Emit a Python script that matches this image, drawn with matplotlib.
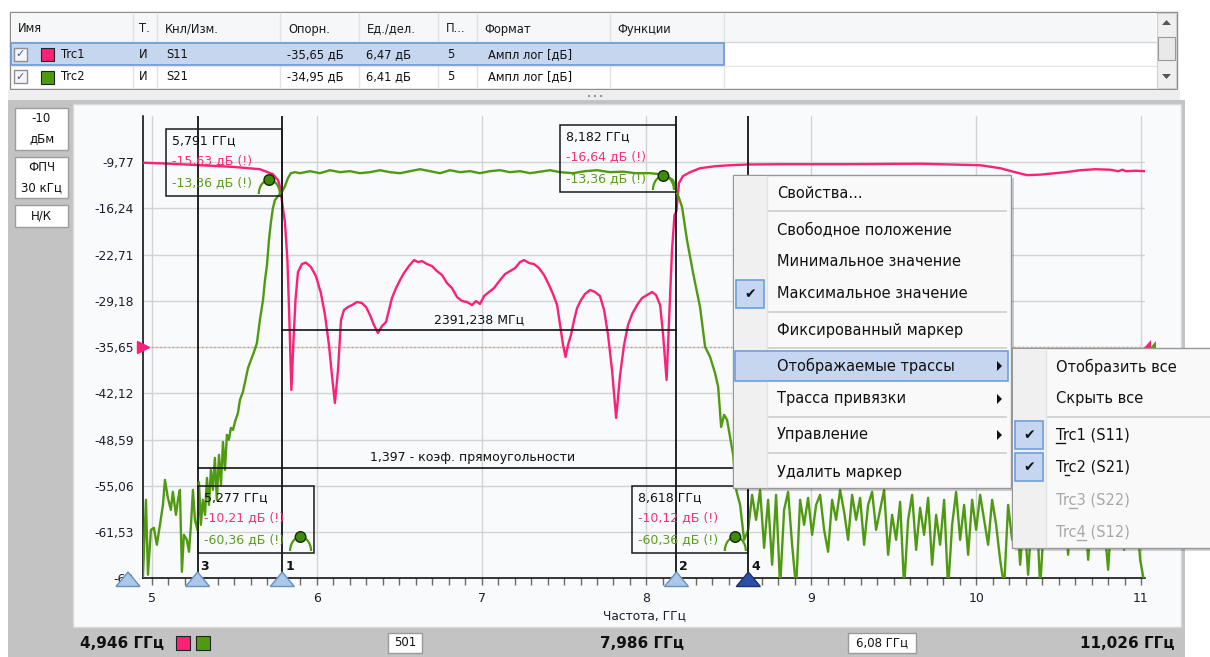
import numpy as np
import matplotlib
matplotlib.use('Agg')
import matplotlib.pyplot as plt
from matplotlib.patches import Rectangle, Polygon, Circle, Arc
from matplotlib.ticker import FixedLocator, MultipleLocator, FuncFormatter
from matplotlib.font_manager import FontProperties

plt.rcParams['font.family'] = ['DejaVu Sans']

# ------------------------------------------------------------------ data
TABLE_COLS = ['Имя', 'Т.', 'Кнл/Изм.', 'Опорн.', 'Ед./дел.', 'П...', 'Формат', 'Функции']
TRACE_NAMES = ['Trc1', 'Trc2']
TRACE_TYPE = ['И', 'И']
TRACE_MEAS = ['S11', 'S21']
TRACE_REF = [-35.65, -34.95]
TRACE_SCALE = [6.47, 6.41]
TRACE_REFPOS = [5, 5]
TRACE_FORMAT = ['Ампл лог [дБ]', 'Ампл лог [дБ]']
TRACE_COLORS = ['#fa2176', '#4f9a10']
N_DIV = 10

F_START, F_CENTER, F_STOP = 4.946, 7.986, 11.026
N_POINTS = 501
F_SPAN = 6.08
X_TICKS = [5, 6, 7, 8, 9, 10, 11]

LEFT_INFO = [['-10', 'дБм'], ['ФПЧ', '30 кГц'], ['Н/К']]

S11_F = [4.945, 5.109, 5.291, 5.491, 5.655, 5.734, 5.765, 5.780, 5.791, 5.807,
         5.822, 5.834, 5.846, 5.859, 5.871, 5.886, 5.910, 5.934, 5.965, 5.995,
         6.025, 6.050, 6.074, 6.092, 6.110, 6.129, 6.147, 6.165, 6.189, 6.214,
         6.244, 6.274, 6.299, 6.323, 6.347, 6.371, 6.396, 6.420, 6.438, 6.456,
         6.481, 6.505, 6.529, 6.559, 6.590, 6.614, 6.638, 6.669, 6.699, 6.729,
         6.760, 6.790, 6.820, 6.851, 6.881, 6.911, 6.942, 6.966, 6.990, 7.015,
         7.045, 7.075, 7.112, 7.142, 7.172, 7.203, 7.233, 7.257, 7.288, 7.318,
         7.348, 7.379, 7.409, 7.433, 7.458, 7.476, 7.494, 7.509, 7.524, 7.542,
         7.561, 7.579, 7.603, 7.627, 7.658, 7.688, 7.718, 7.743, 7.767, 7.791,
         7.816, 7.840, 7.864, 7.888, 7.913, 7.943, 7.973, 8.004, 8.034, 8.058,
         8.083, 8.101, 8.122, 8.137, 8.155, 8.170, 8.182, 8.197, 8.221, 8.264,
         8.325, 8.416, 8.507, 8.618, 8.811, 9.235, 9.660, 10.024, 10.146, 10.237,
         10.309, 10.388, 10.479, 10.540, 10.631, 10.722, 10.813, 10.862, 10.886, 10.910,
         10.965, 11.026]
S11_DB = [-9.87, -10.01, -10.22, -10.45, -10.78, -11.48, -12.31, -13.43, -15.63, -18.18,
          -23.49, -31.88, -41.66, -34.67, -29.08, -25.17, -24.05, -23.84, -24.47, -25.73,
          -28.10, -31.18, -35.37, -39.56, -43.48, -38.86, -31.88, -30.48, -30.06, -29.78,
          -29.36, -29.50, -30.06, -31.18, -32.58, -33.69, -32.72, -32.16, -30.48, -28.80,
          -27.41, -26.29, -25.31, -24.33, -23.49, -23.77, -23.63, -24.05, -24.33, -25.03,
          -25.59, -26.71, -27.41, -28.66, -29.22, -29.36, -29.78, -29.22, -29.64, -28.52,
          -27.96, -27.41, -26.29, -25.45, -25.03, -24.61, -23.77, -23.49, -23.91, -24.05,
          -24.61, -25.59, -26.99, -28.24, -29.78, -32.58, -35.37, -37.05, -35.37, -33.97,
          -31.88, -30.20, -29.08, -28.24, -27.68, -27.96, -28.52, -30.48, -33.97, -38.86,
          -45.57, -39.56, -35.37, -32.58, -31.04, -29.78, -28.80, -28.38, -27.96, -28.38,
          -29.78, -33.97, -40.26, -31.88, -22.10, -17.20, -16.64, -12.73, -11.75, -11.20,
          -10.64, -10.36, -10.22, -10.12, -10.08, -10.08, -10.01, -10.22, -10.64, -11.20,
          -11.61, -11.54, -11.33, -11.20, -10.92, -10.78, -10.85, -11.06, -10.85, -11.06,
          -10.99, -11.06]

S21_F_LOW = [4.945, 4.964, 4.976, 4.994, 5.012, 5.030, 5.049, 5.067, 5.079, 5.097,
             5.115, 5.127, 5.146, 5.158, 5.170, 5.182, 5.194, 5.212, 5.225, 5.237,
             5.249, 5.261, 5.277, 5.285, 5.297, 5.309, 5.322, 5.334, 5.346, 5.358,
             5.370, 5.382, 5.394, 5.407, 5.419, 5.431, 5.443, 5.455, 5.467, 5.479,
             5.492, 5.504, 5.522, 5.534, 5.552, 5.564, 5.583, 5.601, 5.619, 5.637,
             5.655, 5.674, 5.686, 5.698, 5.710, 5.722, 5.734, 5.746, 5.765, 5.777,
             5.791, 5.807, 5.825, 5.843, 5.868, 5.898]
S21_DB_LOW = [-67.21, -56.13, -66.51, -60.29, -60.01, -62.36, -59.59, -56.82, -53.36, -55.86,
              -57.52, -55.02, -58.21, -56.13, -54.75, -66.10, -60.98, -61.67, -63.33, -59.59,
              -54.75, -58.90, -60.36, -53.64, -59.59, -56.13, -58.21, -53.09, -56.82, -51.98,
              -54.75, -50.32, -56.13, -49.90, -54.06, -48.10, -51.98, -47.13, -47.82, -46.16,
              -46.44, -45.33, -44.09, -42.29, -41.18, -39.93, -37.86, -36.75, -35.64, -34.40,
              -31.21, -28.44, -25.67, -23.60, -20.14, -17.64, -15.71, -14.60, -14.04, -13.77,
              -13.36, -12.66, -11.55, -10.86, -10.72, -10.86]
S21_F_PASS = [5.959, 6.019, 6.080, 6.141, 6.201, 6.262, 6.323, 6.383, 6.444, 6.505,
              6.566, 6.626, 6.687, 6.748, 6.808, 6.869, 6.930, 6.990, 7.051, 7.112,
              7.172, 7.233, 7.294, 7.354, 7.415, 7.476, 7.555, 7.627, 7.700, 7.779,
              7.858, 7.931, 8.022, 8.083, 8.125, 8.161, 8.182, 8.198, 8.216, 8.246,
              8.283, 8.325, 8.356, 8.386, 8.416, 8.435, 8.453, 8.471, 8.489, 8.507,
              8.526, 8.544]
S21_DB_PASS = [-10.58, -10.86, -10.45, -10.72, -10.58, -10.86, -10.72, -10.45, -10.72, -10.86,
               -10.58, -10.31, -10.58, -10.86, -10.45, -10.72, -10.58, -10.86, -10.58, -10.45,
               -10.72, -10.58, -10.86, -10.65, -10.45, -10.72, -10.86, -10.58, -10.45, -10.72,
               -10.65, -10.86, -10.86, -11.00, -11.28, -11.83, -13.36, -14.32, -15.57, -20.14,
               -24.71, -29.41, -34.95, -36.33, -38.55, -40.49, -46.03, -44.36, -45.06, -47.41,
               -49.90, -54.75]
S21_HIGH_START, S21_HIGH_STOP = 8.568, 11.019
S21_DB_HIGH = [-56.83, -61.67, -60.36, -55.44, -58.90, -54.75, -62.78, -56.13, -65.13, -55.44,
               -68.20, -57.52, -55.03, -62.36, -68.40, -56.13, -59.59, -55.86, -60.98, -56.83,
               -55.44, -60.29, -63.33, -56.13, -58.90, -54.75, -57.79, -61.67, -55.44, -58.90,
               -55.86, -62.36, -56.83, -55.03, -60.29, -57.52, -54.75, -63.75, -58.21, -61.67,
               -56.41, -68.30, -58.90, -55.44, -63.05, -57.24, -60.98, -55.86, -65.13, -58.21,
               -62.36, -56.13, -68.50, -59.59, -55.03, -61.67, -56.83, -63.75, -56.13, -60.29,
               -55.44, -58.90, -62.36, -56.13, -59.59, -64.44, -68.20, -56.83, -61.67, -56.13,
               -65.13, -58.21, -66.51, -57.52, -55.44, -68.40, -58.90, -56.13, -62.36, -57.52,
               -60.29, -56.83, -63.75, -56.13, -60.98, -58.21, -55.86, -64.44, -57.52, -61.67,
               -56.13, -59.59, -65.82, -56.83, -60.98, -55.86, -63.05, -58.21, -61.67, -56.83,
               -64.44, -67.50]

MARKER_NUM = [1, 2, 3, 4]
MARKER_F = [5.791, 8.182, 5.277, 8.618]
MARKER_TRC1 = [-15.63, -16.64, -10.21, -10.12]
MARKER_TRC2 = [-13.36, -13.36, -60.36, -60.36]
MARKER_ACTIVE = 4
BANDWIDTH_MHZ = 2391.238
SHAPE_FACTOR = 1.397

MENU_ITEMS = ['Свойства...', None, 'Свободное положение', 'Минимальное значение',
              'Максимальное значение', None, 'Фиксированный маркер', None,
              'Отображаемые трассы', 'Трасса привязки', None, 'Управление', None,
              'Удалить маркер']
MENU_CHECKED = ['Максимальное значение']
MENU_SUB = ['Отображаемые трассы', 'Трасса привязки', 'Управление']
SUBMENU_ITEMS = ['Отобразить все', 'Скрыть все', None, 'Trc1 (S11)', 'Trc2 (S21)',
                 'Trc3 (S22)', 'Trc4 (S12)']
SUBMENU_CHECKED = ['Trc1 (S11)', 'Trc2 (S21)']
SUBMENU_DISABLED = ['Trc3 (S22)', 'Trc4 (S12)']
SUBMENU_ACCEL = {'Trc1 (S11)': 0, 'Trc2 (S21)': 1, 'Trc3 (S22)': 2, 'Trc4 (S12)': 3}


def cnum(v, nd=2):
    return f"{v:.{nd}f}".replace('.', ',')


# ------------------------------------------------------------------ figure
W, H = 1210, 657
fig = plt.figure(figsize=(W / 100, H / 100), dpi=100)
fig.patch.set_facecolor('white')
renderer = fig.canvas.get_renderer()


def text_w(s, size, weight='normal'):
    fp = FontProperties(family='DejaVu Sans', size=size, weight=weight)
    w, h, d = renderer.get_text_width_height_descent(s, fp, ismath=False)
    return w


bg = fig.add_axes([0, 0, 1, 1], zorder=0)
bg.set_xlim(0, W); bg.set_ylim(H, 0); bg.axis('off')
fg = fig.add_axes([0, 0, 1, 1], zorder=10)
fg.set_xlim(0, W); fg.set_ylim(H, 0); fg.axis('off')

# ---------------- top table
bg.add_patch(Rectangle((10, 12), 1167, 77, fc='white', ec='#8c8c8c', lw=1))
bg.add_patch(Rectangle((11, 13), 1145, 29, fc='#f6f7f8', ec='none'))
bg.plot([11, 1156], [42, 42], color='#d6d6d6', lw=1)
col_x = [18, 139, 165, 288, 367, 446, 484, 617]
sep_x = [133, 157, 280, 359, 438, 477, 610, 724]
for x in sep_x:
    bg.plot([x, x], [13, 88], color='#e2e2e2', lw=1)
for x, s in zip(col_x, TABLE_COLS):
    bg.text(x, 29, s, fontsize=8.3, va='center', ha='left', color='#1a1a1a')
row_y = [54.5, 77]
bg.add_patch(Rectangle((11, 43), 713, 22, fc='#c7d6ef', ec='#6a98d8', lw=1.2, zorder=2))
bg.plot([11, 1156], [66, 66], color='#e6e6e6', lw=1, zorder=1)
for i in range(2):
    y = row_y[i]
    bg.add_patch(Rectangle((14, y - 7), 13, 13, fc='#f4f6fa', ec='#8e8e8e', lw=1, zorder=3))
    bg.text(20.5, y, '✓', fontsize=8, ha='center', va='center', color='#3d5da6', zorder=4)
    bg.add_patch(Rectangle((41, y - 6.5), 13, 13, fc=TRACE_COLORS[i], ec='#222222', lw=0.8, zorder=3))
    vals = [TRACE_NAMES[i], TRACE_TYPE[i], TRACE_MEAS[i], cnum(TRACE_REF[i]) + ' дБ',
            cnum(TRACE_SCALE[i]) + ' дБ', str(TRACE_REFPOS[i]), TRACE_FORMAT[i]]
    xs = [61, 139, 166, 287, 366, 447, 488]
    for x, s in zip(xs, vals):
        bg.text(x, y, s, fontsize=8.3, va='center', ha='left', color='#111111', zorder=4)
# scrollbar
bg.add_patch(Rectangle((1157, 13), 19, 75, fc='#efefef', ec='#d0d0d0', lw=0.8))
bg.add_patch(Polygon([(1162, 25), (1171, 25), (1166.5, 20)], closed=True, fc='#555555', ec='none'))
bg.add_patch(Polygon([(1162, 74), (1171, 74), (1166.5, 79)], closed=True, fc='#555555', ec='none'))
bg.add_patch(Rectangle((1158, 37), 17, 23, fc='#e9e9e9', ec='#9a9a9a', lw=0.8))
# splitter
bg.add_patch(Rectangle((8, 90), 1172, 10, fc='#eeeeee', ec='none'))
for dx in (-6, 0, 6):
    bg.add_patch(Circle((595 + dx, 96), 1.1, fc='#8a8a8a', ec='none'))

# ---------------- main panel
bg.add_patch(Rectangle((8, 100), 1177, 557, fc='#c3c3c3', ec='none'))
bg.add_patch(Rectangle((73, 104), 1108, 523, fc='#f9fafc', ec='#d8d8d8', lw=1))
box_rows = [(108, 150), (157, 198), (205, 227)]
for (y0, y1), lines in zip(box_rows, LEFT_INFO):
    bg.add_patch(Rectangle((15, y0), 53, y1 - y0, fc='white', ec='#9d9d9d', lw=1))
    n = len(lines)
    for k, s in enumerate(lines):
        yy = (y0 + y1) / 2 + (k - (n - 1) / 2) * 20
        bg.text(41.5, yy, s, fontsize=8.5, ha='center', va='center', color='#111111')

# ---------------- plot axes
X0, X1 = 143.0, 1145.3
Y0, Y1 = 115.75, 578.25
rect = [X0 / W, (H - Y1) / H, (X1 - X0) / W, (Y1 - Y0) / H]
ax = fig.add_axes(rect, zorder=5)
ax.patch.set_alpha(0)
ax.set_xlim(F_START, F_STOP)
lo1 = TRACE_REF[0] - TRACE_REFPOS[0] * TRACE_SCALE[0]
hi1 = lo1 + N_DIV * TRACE_SCALE[0]
ax.set_ylim(lo1, hi1)
yt = [lo1 + k * TRACE_SCALE[0] for k in range(N_DIV)]


def yfmt(v, pos=None):
    s = f"{v:.2f}".rstrip('0').rstrip('.')
    return s.replace('.', ',')


ax.yaxis.set_major_locator(FixedLocator(yt))
ax.yaxis.set_major_formatter(FuncFormatter(yfmt))
ax.xaxis.set_major_locator(FixedLocator(X_TICKS))
ax.xaxis.set_minor_locator(MultipleLocator(0.1))
ax.grid(True, which='major', color='#d3d3d3', lw=1)
ax.set_axisbelow(True)
for s in ('top', 'right'):
    ax.spines[s].set_visible(False)
for s in ('left', 'bottom'):
    ax.spines[s].set_color('black'); ax.spines[s].set_linewidth(1.1)
ax.tick_params(axis='y', length=0, pad=6.5, labelsize=8.8, labelcolor='#1c1c2c')
ax.tick_params(axis='x', which='both', direction='out', length=5, width=1,
               color='#6a6a6a', pad=5, labelsize=9, labelcolor='#1c1c2c')
ax.set_xlabel('Частота, ГГц', fontsize=8.8, labelpad=3, color='#1c1c2c')

ax2 = fig.add_axes(rect, zorder=6, sharex=ax)
lo2 = TRACE_REF[1] - TRACE_REFPOS[1] * TRACE_SCALE[1]
ax2.set_ylim(lo2, lo2 + N_DIV * TRACE_SCALE[1])
ax2.axis('off')

ax.axhline(TRACE_REF[0], color='#c79a88', lw=1, ls=(0, (1, 2)), zorder=2)
ax.plot(S11_F, S11_DB, color=TRACE_COLORS[0], lw=1.7, zorder=3, solid_joinstyle='round')
s21_f = np.concatenate([S21_F_LOW, S21_F_PASS, np.linspace(S21_HIGH_START, S21_HIGH_STOP, len(S21_DB_HIGH))])
s21_db = np.concatenate([S21_DB_LOW, S21_DB_PASS, S21_DB_HIGH])
ax2.plot(s21_f, s21_db, color=TRACE_COLORS[1], lw=1.7, solid_joinstyle='round')

for f in MARKER_F:
    ax.axvline(f, color='black', lw=1.2, zorder=4)
ax.plot([F_START], [TRACE_REF[0]], marker='>', ms=8, color=TRACE_COLORS[0], clip_on=False, zorder=6)

fig.canvas.draw()


def px(f):
    return ax.transData.transform((f, 0))[0]


xr = px(F_STOP)
fg.add_patch(Polygon([(xr - 1, 347.5), (xr + 6, 347.5), (xr + 6, 340)], closed=True, fc=TRACE_COLORS[0], ec='none'))
fg.add_patch(Polygon([(xr + 5, 347.5), (xr + 11, 347.5), (xr + 11, 341)], closed=True, fc=TRACE_COLORS[1], ec='none'))

# ---------------- marker readout boxes
txt_pink = '#f2327c'
txt_green = '#5c9b1e'
box_w, box_h = 116, 67
box_tops = {1: 129, 2: 125, 3: 486, 4: 486}
box_side = {1: 'left', 2: 'left', 3: 'right', 4: 'left'}
for num, f, v1, v2 in zip(MARKER_NUM, MARKER_F, MARKER_TRC1, MARKER_TRC2):
    xm = px(f)
    xl = xm - box_w if box_side[num] == 'left' else xm
    yt0 = box_tops[num]
    fg.add_patch(Rectangle((xl, yt0), box_w, box_h, fill=False, ec='#1a1a1a', lw=1.1, zorder=3))
    fg.text(xl + 6, yt0 + 12, cnum(f, 3) + ' ГГц', fontsize=9, color='#111111', va='center', zorder=4)
    fg.text(xl + 6, yt0 + 32, cnum(v1) + ' дБ (!)', fontsize=9, color=txt_pink, va='center', zorder=4)
    fg.text(xl + 6, yt0 + 54, cnum(v2) + ' дБ (!)', fontsize=9, color=txt_green, va='center', zorder=4)
    cx = xl + box_w - 13
    fg.add_patch(Arc((cx, yt0 + box_h - 2), 21, 28, theta1=180, theta2=360, color=TRACE_COLORS[1], lw=1.6, zorder=4))
    fg.add_patch(Circle((cx, yt0 + box_h - 16), 5.3, fc='#3f8a0c', ec='#102a00', lw=1, zorder=5))
    # bottom triangle + number
    active = (num == MARKER_ACTIVE)
    fg.add_patch(Polygon([(xm - 12, 586.5), (xm + 12, 586.5), (xm, 572)], closed=True,
                         fc='#2b4fa6' if active else '#a9c8ea',
                         ec='#1b3272' if active else '#6b8fbd', lw=1, zorder=6))
    fg.text(xm + 3, 566, str(num), fontsize=9, fontweight='bold', color='#111111', va='center', ha='left', zorder=6)

fg.add_patch(Polygon([(116, 586.5), (140, 586.5), (128, 572)], closed=True, fc='#a9c8ea', ec='#6b8fbd', lw=1, zorder=6))

# bandwidth and shape factor lines
m1, m2, m3, m4 = [px(f) for f in MARKER_F]
fg.plot([m1, m2], [330, 330], color='#111111', lw=1.2, zorder=3)
fg.text((m1 + m2) / 2, 320, cnum(BANDWIDTH_MHZ, 3) + ' МГц', fontsize=9, ha='center', va='center', color='#111111', zorder=4)
fg.plot([m3, m4], [468, 468], color='#111111', lw=1.2, zorder=3)
fg.text((m3 + m4) / 2, 458, cnum(SHAPE_FACTOR, 3) + ' - коэф. прямоугольности', fontsize=9, ha='center', va='center', color='#111111', zorder=4)

# ---------------- bottom status bar
fg.text(80, 643, cnum(F_START, 3) + ' ГГц', fontsize=11, fontweight='bold', va='center', ha='left', color='#111111')
fg.add_patch(Rectangle((176, 636), 14, 14, fc=TRACE_COLORS[0], ec='#222222', lw=0.8))
fg.add_patch(Rectangle((196, 636), 14, 14, fc=TRACE_COLORS[1], ec='#222222', lw=0.8))
fg.add_patch(Rectangle((388, 633), 34, 20, fc='white', ec='#9a9a9a', lw=1))
fg.text(405, 643, str(N_POINTS), fontsize=8.5, va='center', ha='center', color='#111111')
fg.text(642, 643, cnum(F_CENTER, 3) + ' ГГц', fontsize=11, fontweight='bold', va='center', ha='center', color='#111111')
fg.add_patch(Rectangle((848, 633), 68, 20, fc='white', ec='#9a9a9a', lw=1))
fg.text(882, 643, cnum(F_SPAN) + ' ГГц', fontsize=8.5, va='center', ha='center', color='#111111')
fg.text(1175, 643, cnum(F_STOP, 3) + ' ГГц', fontsize=11, fontweight='bold', va='center', ha='right', color='#111111')

# ---------------- context menu
MZ = 20
mx0, mx1, my0, my1 = 733, 1011, 175, 488
fg.add_patch(Rectangle((mx0 + 3, my0 + 3), mx1 - mx0, my1 - my0, fc='#000000', alpha=0.18, ec='none', zorder=MZ))
fg.add_patch(Rectangle((mx0, my0), mx1 - mx0, my1 - my0, fc='#f9f9f9', ec='#979797', lw=1, zorder=MZ + 1))
fg.add_patch(Rectangle((mx0 + 1, my0 + 1), 33, my1 - my0 - 2, fc='#f0f0f0', ec='none', zorder=MZ + 2))
fg.plot([mx0 + 34, mx0 + 34], [my0 + 1, my1 - 1], color='#e2e3e3', lw=1, zorder=MZ + 2)
item_y = {'Свойства...': 194, 'Свободное положение': 230, 'Минимальное значение': 262,
          'Максимальное значение': 294, 'Фиксированный маркер': 331, 'Отображаемые трассы': 366,
          'Трасса привязки': 399, 'Управление': 435, 'Удалить маркер': 472}
sep_y = [211, 312, 348, 417, 453]
for y in sep_y:
    fg.plot([769, 1006], [y, y], color='#cdcdcd', lw=1.2, zorder=MZ + 3)
fg.add_patch(Rectangle((735, 351), 273, 30, fc='#c6d6f0', ec='#6e9ee0', lw=1.2, zorder=MZ + 3))
MFS = 10.5
for s in MENU_ITEMS:
    if s is None:
        continue
    y = item_y[s]
    fg.text(777, y, s, fontsize=MFS, va='center', ha='left', color='#111111', zorder=MZ + 5)
    if s in MENU_CHECKED:
        fg.add_patch(Rectangle((736, y - 14), 28, 28, fc='#c6d6f0', ec='#6e9ee0', lw=1.2, zorder=MZ + 3))
        fg.text(750, y, '✔', fontsize=10, va='center', ha='center', color='#111111', zorder=MZ + 5)
    if s in MENU_SUB:
        fg.add_patch(Polygon([(997, y - 5), (997, y + 5), (1002, y)], closed=True, fc='#111111', ec='none', zorder=MZ + 5))

# submenu
sx0, sx1, sy0, sy1 = 1012, 1214, 348, 548
fg.add_patch(Rectangle((sx0 + 3, sy0 + 3), sx1 - sx0, sy1 - sy0, fc='#000000', alpha=0.18, ec='none', zorder=MZ + 6))
fg.add_patch(Rectangle((sx0, sy0), sx1 - sx0, sy1 - sy0, fc='#f9f9f9', ec='#979797', lw=1, zorder=MZ + 7))
fg.add_patch(Rectangle((sx0 + 1, sy0 + 1), 33, sy1 - sy0 - 2, fc='#f0f0f0', ec='none', zorder=MZ + 8))
fg.plot([sx0 + 34, sx0 + 34], [sy0 + 1, sy1 - 1], color='#e2e3e3', lw=1, zorder=MZ + 8)
sub_y = {'Отобразить все': 367, 'Скрыть все': 399, 'Trc1 (S11)': 435, 'Trc2 (S21)': 467,
         'Trc3 (S22)': 500, 'Trc4 (S12)': 532}
fg.plot([1048, 1210], [417, 417], color='#cdcdcd', lw=1.2, zorder=MZ + 9)
for s in SUBMENU_ITEMS:
    if s is None:
        continue
    y = sub_y[s]
    col = '#a8a8a8' if s in SUBMENU_DISABLED else '#111111'
    fg.text(1056, y, s, fontsize=MFS, va='center', ha='left', color=col, zorder=MZ + 11)
    if s in SUBMENU_CHECKED:
        fg.add_patch(Rectangle((1015, y - 14), 28, 28, fc='#c6d6f0', ec='#6e9ee0', lw=1.2, zorder=MZ + 9))
        fg.text(1029, y, '✔', fontsize=10, va='center', ha='center', color='#111111', zorder=MZ + 11)
    if s in SUBMENU_ACCEL:
        k = SUBMENU_ACCEL[s]
        ux0 = 1056 + text_w(s[:k], MFS)
        ux1 = 1056 + text_w(s[:k + 1], MFS)
        fg.plot([ux0, ux1], [y + 8, y + 8], color=col, lw=1, zorder=MZ + 11)

fig.savefig('out.png', dpi=100)
